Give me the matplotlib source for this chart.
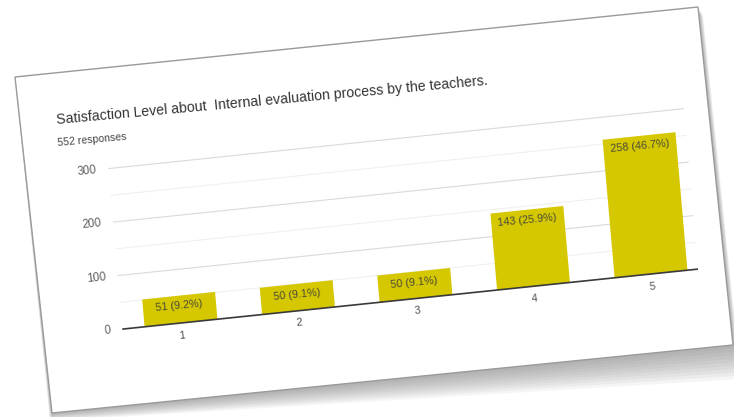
import numpy as np
import matplotlib
matplotlib.use('Agg')
import matplotlib.pyplot as plt
from matplotlib.transforms import Affine2D
from matplotlib.patches import Polygon

# ---- data ----
categories = ['1', '2', '3', '4', '5']
counts = [51, 50, 50, 143, 258]
bar_labels = ['51 (9.2%)', '50 (9.1%)', '50 (9.1%)', '143 (25.9%)', '258 (46.7%)']
y_ticks = [0, 100, 200, 300]
minor_ticks = [50, 150, 250]
title = 'Satisfaction Level about  Internal evaluation process by the teachers.'
subtitle = '552 responses'

plt.rcParams['font.family'] = ['Liberation Sans', 'DejaVu Sans']

W, H = 734, 417
fig = plt.figure(figsize=(W / 100, H / 100), dpi=100)
ax = fig.add_axes([0, 0, 1, 1])
ax.set_xlim(0, W)
ax.set_ylim(H, 0)
ax.set_autoscale_on(False)
ax.axis('off')

# ---- tilted card with drop shadow ----
card = np.array([(15, 77), (698, 7), (733, 345), (52, 413)], dtype=float)
shadow_off = np.array([(0, 2), (5, 8), (8, 34), (-2, 8)], dtype=float)
n = 10
for k in range(n, 0, -1):
    t = k / n
    ax.add_patch(Polygon(card + shadow_off * t, closed=True, facecolor='#7a7a7a',
                         edgecolor='none', alpha=0.075, zorder=0))
ax.add_patch(Polygon(card, closed=True, facecolor='white', edgecolor='#9a9a9a',
                     lw=1.0, zorder=1))

# ---- chart frame: local (category, value) -> tilted page pixels ----
M = np.array([[117.5, -0.0465, 63.5],
              [-12.25, -0.535, 335.25],
              [0, 0, 1]])
T = Affine2D(M) + ax.transData
rot = 5.5
xmin, xmax = 0.5, 5.4
xs = np.arange(1, len(categories) + 1)

ax.hlines(minor_ticks, xmin, xmax, colors='#f0f0f0', lw=0.8, transform=T, zorder=2)
ax.hlines(y_ticks[1:], xmin, xmax, colors='#dadada', lw=0.8, transform=T, zorder=2)
ax.bar(xs, counts, width=0.62, color='#d6c800', transform=T, zorder=3)
ax.hlines([0], xmin, xmax, colors='#3a3a3a', lw=1.2, transform=T, zorder=4)

for t in y_ticks:
    ax.text(0.40, t, str(t), transform=T, ha='right', va='center', rotation=rot,
            rotation_mode='anchor', fontsize=8.3, color='#606060', zorder=5)
for x, c in zip(xs, categories):
    ax.text(x, -23, c, transform=T, ha='center', va='center', rotation=rot,
            rotation_mode='anchor', fontsize=7.8, color='#505050', zorder=5)
for x, v, lbl in zip(xs, counts, bar_labels):
    ax.annotate(lbl, xy=(x, v), xycoords=T, xytext=(0, -4), textcoords='offset points',
                ha='center', va='top', rotation=rot, rotation_mode='anchor',
                fontsize=7.8, color='#4a4a3a', zorder=5)

ax.text(57, 124, title, ha='left', va='baseline', rotation=5.2, rotation_mode='anchor',
        fontsize=10.2, color='#333333', zorder=5)
ax.text(58, 146, subtitle, ha='left', va='baseline', rotation=5.2, rotation_mode='anchor',
        fontsize=7.6, color='#444444', zorder=5)

fig.savefig('out.png', dpi=100)
